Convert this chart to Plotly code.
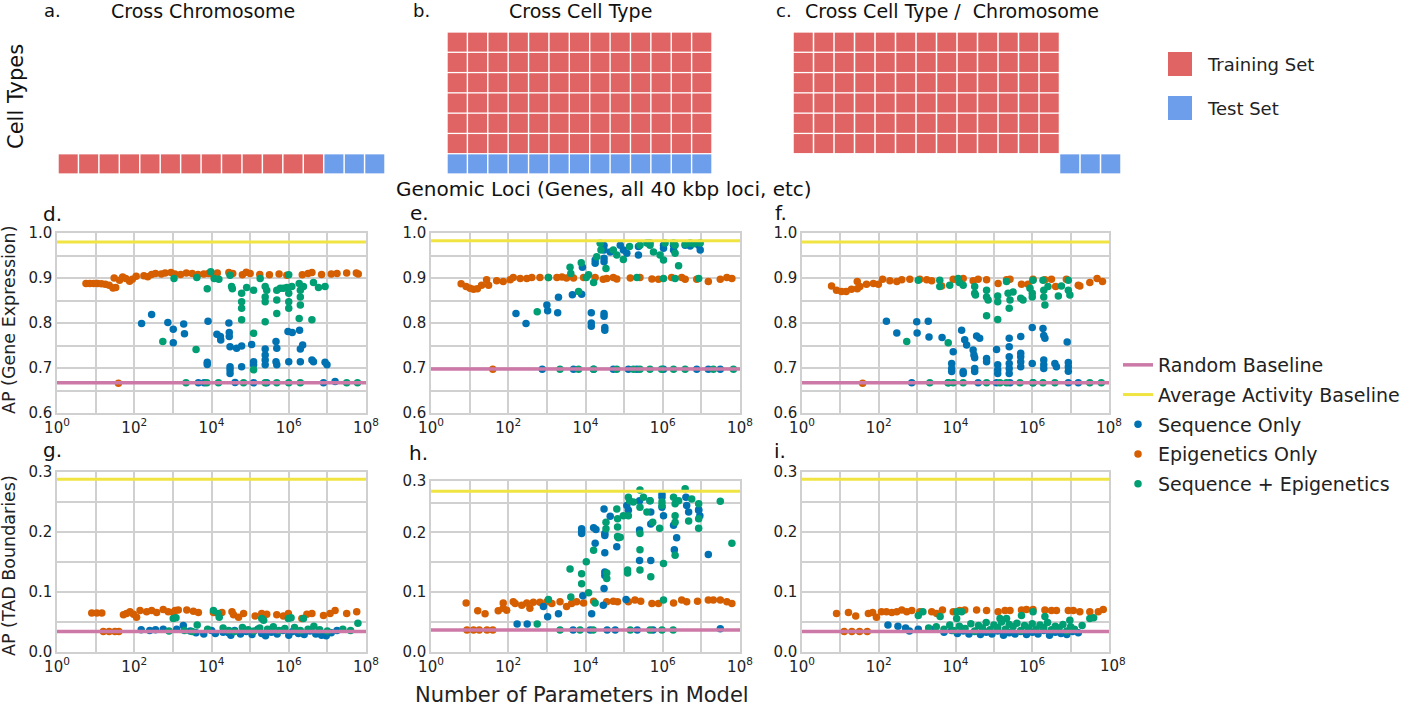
import plotly.graph_objects as go

# ---------------- data (x = log10(number of parameters), y = AP) ----------------
D_EPI = [(0.75,0.888),(0.85,0.888),(0.95,0.888),(1.05,0.888),(1.15,0.887),(1.25,0.886),(1.35,0.884),(1.45,0.878),(1.52,0.879),(1.48,0.900),(1.62,0.895),(1.7,0.902),(1.78,0.899),(1.88,0.893),(1.95,0.897),(2.05,0.904),(2.25,0.905),(2.35,0.903),(2.45,0.908),(2.55,0.910),(2.7,0.909),(2.8,0.911),(2.95,0.912),(3.05,0.909),(3.2,0.908),(3.35,0.911),(3.5,0.910),(3.65,0.908),(3.8,0.909),(3.92,0.91),(4.05,0.907),(4.15,0.911),(4.45,0.912),(4.55,0.91),(4.8,0.907),(4.9,0.913),(5.0,0.910),(5.25,0.908),(5.5,0.907),(5.75,0.909),(5.95,0.906),(6.35,0.907),(6.5,0.910),(6.6,0.912),(6.85,0.908),(7.1,0.909),(7.25,0.91),(7.5,0.911),(7.75,0.911),(7.8,0.909),(1.59,0.666)]
D_SEQ = [(2.19,0.799),(2.45,0.819),(2.87,0.801),(3.01,0.786),(3.01,0.756),(3.28,0.798),(3.30,0.776),(3.91,0.804),(3.89,0.713),(3.89,0.708),(4.14,0.775),(4.23,0.77),(4.24,0.762),(4.45,0.80),(4.46,0.779),(4.46,0.77),(4.48,0.747),(4.48,0.703),(4.48,0.696),(4.48,0.688),(4.65,0.744),(4.78,0.749),(4.78,0.703),(5.04,0.752),(5.09,0.714),(5.09,0.707),(5.39,0.742),(5.39,0.729),(5.39,0.718),(5.39,0.707),(5.67,0.759),(5.69,0.744),(5.67,0.714),(5.69,0.707),(5.98,0.781),(6.09,0.779),(6.0,0.714),(6.28,0.784),(6.3,0.742),(6.36,0.751),(6.3,0.714),(6.6,0.718),(6.64,0.714),(6.94,0.713),(6.99,0.707),(3.66,0.667),(3.81,0.667),(4.61,0.668),(5.09,0.667),(5.43,0.667),(6.9,0.667),(7.2,0.670)]
D_BOTH = [(3.03,0.899),(2.74,0.759),(3.6,0.741),(3.62,0.901),(3.89,0.876),(3.98,0.914),(4.07,0.899),(4.19,0.897),(4.48,0.906),(4.52,0.881),(4.54,0.876),(4.78,0.866),(4.78,0.847),(4.78,0.833),(4.78,0.807),(4.91,0.879),(5.09,0.873),(5.09,0.777),(5.09,0.696),(5.26,0.899),(5.39,0.881),(5.43,0.873),(5.39,0.858),(5.39,0.847),(5.39,0.803),(5.69,0.873),(5.69,0.851),(5.69,0.821),(5.78,0.877),(5.86,0.877),(5.95,0.879),(6.0,0.907),(6.0,0.866),(6.0,0.847),(6.0,0.833),(6.08,0.881),(6.27,0.888),(6.3,0.873),(6.3,0.858),(6.3,0.84),(6.27,0.81),(6.38,0.881),(6.6,0.807),(6.64,0.89),(6.77,0.879),(6.94,0.881),(3.34,0.667),(3.88,0.667),(4.18,0.667),(4.83,0.667),(5.39,0.667),(5.69,0.667),(6.0,0.667),(6.3,0.667),(7.5,0.667),(7.78,0.667)]

E_EPI = [(0.78,0.887),(0.91,0.881),(1.01,0.877),(1.1,0.875),(1.2,0.876),(1.31,0.884),(1.44,0.896),(1.49,0.884),(1.7,0.894),(1.87,0.892),(2.05,0.896),(2.13,0.901),(2.31,0.899),(2.48,0.899),(2.61,0.901),(2.82,0.901),(3.04,0.901),(3.26,0.901),(3.39,0.902),(3.51,0.9),(3.69,0.9),(3.95,0.901),(4.25,0.901),(4.46,0.897),(4.55,0.899),(4.72,0.901),(4.81,0.898),(5.16,0.9),(5.41,0.901),(5.72,0.898),(5.89,0.897),(6.23,0.901),(6.49,0.901),(6.58,0.897),(6.88,0.897),(7.18,0.892),(7.49,0.897),(7.66,0.901),(7.79,0.899),(1.6,0.697)]
E_SEQ = [(2.2,0.821),(2.46,0.799),(3.0,0.84),(3.02,0.827),(3.3,0.857),(3.28,0.823),(3.66,0.863),(3.9,0.864),(3.92,0.924),(4.25,0.94),(4.25,0.933),(4.15,0.823),(4.15,0.793),(4.15,0.80),(4.48,0.821),(4.48,0.815),(4.5,0.79),(4.5,0.784),(4.48,0.972),(4.48,0.962),(4.48,0.944),(4.48,0.936),(4.64,0.958),(4.9,0.973),(4.98,0.962),(5.07,0.955),(5.37,0.97),(5.37,0.951),(5.67,0.978),(6.02,0.973),(6.02,0.966),(6.28,0.973),(6.28,0.962),(6.58,0.973),(6.71,0.971),(6.93,0.973),(6.97,0.962),(2.88,0.697),(3.69,0.697),(4.21,0.697),(4.72,0.697),(5.11,0.697),(5.33,0.697),(6.02,0.697),(6.88,0.697),(7.18,0.697),(7.49,0.697)]
E_BOTH = [(2.75,0.825),(3.04,0.901),(3.6,0.924),(3.62,0.91),(3.82,0.87),(3.89,0.934),(4.02,0.901),(4.08,0.907),(4.21,0.89),(4.29,0.947),(4.53,0.921),(4.38,0.977),(4.4,0.962),(4.72,0.962),(4.81,0.951),(4.98,0.941),(5.14,0.97),(5.33,0.901),(5.41,0.973),(5.59,0.978),(5.67,0.973),(5.76,0.958),(5.93,0.951),(6.02,0.94),(6.02,0.899),(6.06,0.978),(6.28,0.978),(6.32,0.973),(6.32,0.955),(6.41,0.927),(6.32,0.899),(6.71,0.978),(6.8,0.976),(6.93,0.899),(6.97,0.978),(6.58,0.975),(3.34,0.697),(3.82,0.697),(4.21,0.697),(4.81,0.697),(5.24,0.697),(5.41,0.697),(5.67,0.697),(5.97,0.697),(6.28,0.697),(6.58,0.697),(7.31,0.697),(7.83,0.697)]

F_EPI = [(0.77,0.882),(0.9,0.873),(1.03,0.87),(1.15,0.87),(1.29,0.875),(1.44,0.876),(1.51,0.881),(1.44,0.892),(1.68,0.886),(1.86,0.888),(1.99,0.886),(2.1,0.897),(2.29,0.894),(2.47,0.892),(2.6,0.896),(2.81,0.897),(3.07,0.897),(3.25,0.896),(3.38,0.894),(3.64,0.882),(3.94,0.897),(4.03,0.896),(4.2,0.899),(4.46,0.894),(4.59,0.897),(4.81,0.896),(5.11,0.888),(5.33,0.896),(5.42,0.897),(5.72,0.886),(5.89,0.886),(6.02,0.897),(6.33,0.896),(6.5,0.897),(6.61,0.881),(6.89,0.897),(7.2,0.884),(7.24,0.882),(7.5,0.89),(7.69,0.899),(7.83,0.892),(1.58,0.666)]
F_SEQ = [(2.2,0.804),(2.47,0.778),(2.99,0.803),(3.0,0.778),(3.29,0.804),(3.31,0.769),(3.65,0.768),(3.94,0.736),(3.9,0.71),(3.9,0.699),(3.9,0.692),(4.16,0.784),(4.24,0.763),(4.29,0.751),(4.2,0.692),(4.2,0.688),(4.46,0.74),(4.48,0.729),(4.5,0.723),(4.5,0.699),(4.5,0.692),(4.55,0.771),(4.63,0.766),(4.81,0.721),(4.81,0.714),(5.07,0.741),(5.1,0.707),(5.1,0.696),(5.1,0.688),(5.4,0.766),(5.4,0.747),(5.4,0.725),(5.4,0.71),(5.4,0.699),(5.4,0.688),(5.7,0.733),(5.7,0.725),(5.7,0.714),(5.7,0.703),(5.7,0.77),(6.0,0.79),(6.0,0.71),(6.28,0.788),(6.3,0.772),(6.33,0.766),(6.3,0.718),(6.3,0.707),(6.3,0.699),(6.59,0.71),(6.63,0.703),(6.91,0.758),(6.94,0.712),(6.94,0.703),(6.94,0.693),(2.86,0.667),(3.81,0.667),(4.59,0.667),(5.07,0.667),(5.42,0.667),(6.02,0.667),(6.94,0.667),(7.2,0.667)]
F_BOTH = [(2.73,0.759),(3.03,0.895),(3.59,0.895),(3.59,0.881),(3.81,0.756),(3.85,0.884),(4.07,0.899),(4.1,0.89),(4.2,0.884),(4.5,0.881),(4.5,0.866),(4.52,0.862),(4.81,0.873),(4.81,0.858),(4.85,0.851),(4.81,0.816),(5.1,0.86),(5.1,0.847),(5.1,0.808),(5.33,0.892),(5.37,0.866),(5.42,0.851),(5.4,0.833),(5.5,0.869),(5.7,0.855),(5.76,0.851),(5.94,0.877),(6.0,0.866),(6.0,0.858),(6.02,0.895),(6.28,0.895),(6.3,0.873),(6.3,0.858),(6.33,0.84),(6.41,0.881),(6.68,0.86),(6.76,0.882),(6.94,0.895),(6.94,0.873),(6.98,0.862),(3.33,0.667),(3.81,0.667),(3.94,0.667),(4.2,0.667),(4.81,0.667),(5.16,0.667),(5.33,0.667),(5.68,0.667),(6.02,0.667),(6.28,0.667),(6.59,0.667),(7.5,0.667),(7.8,0.667)]

G_EPI = [(0.9,0.065),(1.03,0.065),(1.16,0.065),(1.72,0.062),(1.8,0.064),(1.89,0.067),(1.98,0.063),(2.06,0.058),(2.15,0.069),(2.32,0.067),(2.45,0.069),(2.58,0.066),(2.75,0.071),(2.88,0.067),(3.01,0.066),(3.06,0.069),(3.14,0.07),(3.36,0.07),(3.53,0.068),(3.66,0.066),(4.05,0.066),(4.27,0.066),(4.53,0.067),(4.57,0.062),(4.7,0.058),(4.83,0.064),(5.13,0.06),(5.3,0.064),(5.43,0.063),(5.69,0.062),(5.86,0.06),(5.99,0.064),(6.34,0.056),(6.47,0.063),(6.6,0.064),(6.9,0.061),(7.07,0.064),(7.2,0.069),(7.5,0.064),(7.76,0.067),(1.2,0.034),(1.35,0.034),(1.5,0.034),(1.6,0.034)]
G_SEQ = [(2.18,0.037),(2.4,0.036),(2.55,0.037),(2.75,0.038),(3.27,0.044),(3.1,0.038),(3.45,0.035),(3.6,0.032),(3.8,0.03),(4.0,0.036),(4.1,0.031),(4.3,0.033),(4.44,0.032),(4.5,0.028),(4.6,0.036),(4.75,0.03),(4.9,0.034),(5.05,0.029),(5.2,0.038),(5.3,0.031),(5.4,0.027),(5.55,0.033),(5.7,0.03),(5.85,0.036),(6.0,0.028),(6.1,0.034),(6.25,0.031),(6.4,0.029),(6.55,0.035),(6.7,0.03),(6.85,0.028),(6.97,0.027),(7.1,0.032),(7.25,0.036)]
G_BOTH = [(3.01,0.056),(3.08,0.057),(3.63,0.045),(4.05,0.069),(4.17,0.064),(4.2,0.058),(5.3,0.056),(5.35,0.053),(5.99,0.056),(6.06,0.057),(6.38,0.056),(7.79,0.048),(2.9,0.035),(3.3,0.036),(3.5,0.034),(3.9,0.038),(4.3,0.04),(4.45,0.036),(4.6,0.034),(4.8,0.041),(4.95,0.037),(5.1,0.035),(5.25,0.04),(5.45,0.038),(5.6,0.042),(5.75,0.036),(5.9,0.039),(6.15,0.041),(6.3,0.036),(6.5,0.038),(6.65,0.043),(6.8,0.037),(7.0,0.035),(7.4,0.038),(7.6,0.036)]

H_EPI = [(0.91,0.082),(1.21,0.069),(1.4,0.064),(1.74,0.069),(1.87,0.082),(1.87,0.073),(1.96,0.07),(2.13,0.084),(2.18,0.081),(2.35,0.078),(2.48,0.082),(2.56,0.073),(2.65,0.083),(2.82,0.083),(3.0,0.084),(3.13,0.081),(3.34,0.084),(3.51,0.076),(3.64,0.081),(3.77,0.084),(3.95,0.082),(4.21,0.085),(4.55,0.084),(4.72,0.085),(4.83,0.084),(5.11,0.084),(5.28,0.087),(5.43,0.085),(5.72,0.081),(5.89,0.081),(6.28,0.082),(6.49,0.087),(6.62,0.084),(6.9,0.085),(7.18,0.087),(7.31,0.087),(7.49,0.087),(7.66,0.084),(7.79,0.081),(0.93,0.037),(1.1,0.037),(1.25,0.037),(1.45,0.037),(1.6,0.037)]
H_SEQ = [(3.02,0.059),(2.91,0.076),(3.3,0.064),(3.9,0.206),(3.9,0.202),(3.9,0.198),(3.93,0.094),(4.16,0.064),(4.21,0.208),(4.27,0.205),(4.25,0.182),(4.48,0.239),(4.5,0.198),(4.5,0.195),(4.5,0.166),(4.5,0.134),(4.5,0.128),(4.48,0.106),(4.46,0.078),(4.64,0.227),(4.81,0.176),(5.07,0.245),(5.11,0.237),(5.05,0.088),(5.4,0.253),(5.4,0.204),(5.4,0.153),(5.67,0.253),(5.69,0.234),(5.69,0.214),(5.69,0.153),(5.98,0.264),(5.98,0.259),(5.98,0.242),(6.02,0.228),(6.28,0.212),(6.3,0.171),(6.36,0.191),(6.6,0.259),(6.62,0.245),(6.67,0.234),(6.93,0.238),(6.96,0.228),(6.93,0.237),(7.18,0.163),(2.23,0.047),(2.49,0.047),(3.68,0.037),(4.12,0.037),(4.56,0.037),(4.77,0.037),(5.34,0.037),(5.75,0.037),(7.49,0.039)]
H_BOTH = [(3.04,0.088),(3.6,0.139),(3.62,0.092),(3.9,0.131),(3.9,0.114),(4.02,0.151),(4.08,0.099),(4.21,0.17),(4.25,0.082),(4.53,0.217),(4.53,0.206),(4.55,0.132),(4.55,0.123),(4.81,0.239),(4.83,0.223),(4.83,0.209),(4.83,0.193),(4.85,0.191),(4.9,0.192),(4.98,0.228),(5.11,0.259),(5.14,0.253),(5.11,0.228),(5.09,0.137),(5.09,0.132),(5.24,0.251),(5.41,0.271),(5.41,0.242),(5.41,0.198),(5.41,0.171),(5.41,0.137),(5.5,0.259),(5.59,0.234),(5.67,0.253),(5.69,0.126),(5.74,0.217),(5.92,0.207),(5.98,0.251),(5.98,0.245),(6.02,0.148),(6.02,0.087),(6.28,0.259),(6.32,0.248),(6.32,0.228),(6.32,0.217),(6.32,0.162),(6.41,0.253),(6.58,0.288),(6.58,0.273),(6.67,0.219),(6.75,0.256),(6.93,0.248),(6.93,0.223),(6.93,0.207),(7.49,0.252),(7.79,0.182),(2.75,0.047),(3.34,0.037),(3.86,0.037),(4.2,0.037),(5.16,0.037),(5.67,0.037),(5.98,0.037),(6.27,0.037)]

I_EPI = [(0.9,0.064),(1.21,0.066),(1.4,0.06),(1.73,0.064),(1.84,0.066),(1.94,0.058),(2.07,0.067),(2.2,0.067),(2.34,0.066),(2.47,0.067),(2.6,0.07),(2.73,0.067),(2.86,0.069),(3.07,0.067),(3.38,0.067),(3.51,0.064),(3.66,0.07),(3.94,0.067),(4.11,0.069),(4.24,0.07),(4.55,0.07),(4.81,0.069),(5.11,0.067),(5.29,0.069),(5.42,0.069),(5.72,0.07),(5.85,0.071),(6.02,0.071),(6.33,0.07),(6.5,0.069),(6.63,0.069),(6.94,0.069),(7.07,0.069),(7.24,0.067),(7.5,0.067),(7.72,0.067),(7.85,0.071),(1.1,0.034),(1.3,0.034),(1.5,0.034),(1.7,0.034)]
I_SEQ = [(2.24,0.045),(2.5,0.043),(2.7,0.04),(2.8,0.035),(3.03,0.038),(3.45,0.038),(3.7,0.033),(3.9,0.036),(4.05,0.031),(4.2,0.035),(4.35,0.03),(4.5,0.034),(4.65,0.029),(4.8,0.033),(4.95,0.03),(5.1,0.035),(5.25,0.028),(5.4,0.032),(5.55,0.03),(5.7,0.034),(5.85,0.029),(6.0,0.033),(6.15,0.03),(6.3,0.036),(6.45,0.028),(6.6,0.033),(6.75,0.031),(6.9,0.029),(7.05,0.034),(7.2,0.032)]
I_BOTH = [(3.03,0.061),(3.15,0.067),(3.6,0.059),(4.03,0.067),(4.16,0.067),(4.03,0.056),(5.16,0.056),(5.33,0.056),(5.72,0.061),(6.02,0.067),(6.33,0.059),(6.98,0.053),(7.5,0.056),(7.6,0.057),(8.1,0.031),(3.3,0.04),(3.5,0.042),(3.7,0.038),(3.85,0.045),(3.95,0.036),(4.1,0.043),(4.25,0.039),(4.4,0.047),(4.5,0.035),(4.6,0.044),(4.7,0.04),(4.8,0.049),(4.9,0.037),(5.0,0.045),(5.1,0.041),(5.2,0.05),(5.3,0.038),(5.4,0.046),(5.5,0.042),(5.6,0.048),(5.7,0.036),(5.8,0.044),(5.9,0.04),(6.0,0.047),(6.1,0.038),(6.2,0.045),(6.3,0.041),(6.4,0.049),(6.5,0.037),(6.6,0.043),(6.7,0.04),(6.8,0.046),(6.9,0.035),(7.0,0.042),(7.1,0.038),(7.3,0.044)]

RANDOM_BASELINE = {"d": 0.667, "e": 0.698, "f": 0.667, "g": 0.034, "h": 0.037, "i": 0.034}
AVERAGE_BASELINE = {"d": 0.980, "e": 0.983, "f": 0.980, "g": 0.288, "h": 0.269, "i": 0.288}

PANEL_DATA = {
    "d": (D_SEQ, D_EPI, D_BOTH), "e": (E_SEQ, E_EPI, E_BOTH), "f": (F_SEQ, F_EPI, F_BOTH),
    "g": (G_SEQ, G_EPI, G_BOTH), "h": (H_SEQ, H_EPI, H_BOTH), "i": (I_SEQ, I_EPI, I_BOTH),
}

X_TICK_EXPONENTS = list(range(0, 9))
TOP_Y_TICKS = [0.6, 0.7, 0.8, 0.9, 1.0]
BOTTOM_Y_TICKS = [0.0, 0.1, 0.2, 0.3]
SERIES_NAMES = ["Sequence Only", "Epigenetics Only", "Sequence + Epigenetics"]
SCHEMA_TITLES = {"a": "Cross Chromosome", "b": "Cross Cell Type", "c": "Cross Cell Type /  Chromosome"}

# schematic grid counts
A_TRAIN_COLS, A_TEST_COLS = 13, 3
B_COLS, B_TRAIN_ROWS = 13, 6
C_COLS, C_TRAIN_ROWS, C_TEST_COLS = 13, 6, 3

# ---------------- styling ----------------
BLUE, ORANGE, GREEN = "#0072B2", "#D55E00", "#009E73"
PINK, YELLOW = "#CC79A7", "#F0E442"
TRAIN_RED, TEST_BLUE = "#E06464", "#6D9EEB"
GRID = "#d0d0d0"
FONT = "DejaVu Sans"
W, H = 1418, 707


def dx(a, b):
    return [a / W, b / W]


def dy(top, bottom):
    return [1 - bottom / H, 1 - top / H]


PANELS = {
    "d": dict(ax=1, xd=dx(57, 366), yd=dy(233, 413)),
    "e": dict(ax=2, xd=dx(431, 740), yd=dy(233, 413)),
    "f": dict(ax=3, xd=dx(802, 1109), yd=dy(233, 413)),
    "g": dict(ax=4, xd=dx(57, 366), yd=dy(472, 652)),
    "h": dict(ax=5, xd=dx(431, 740), yd=dy(481, 652)),
    "i": dict(ax=6, xd=dx(802, 1109), yd=dy(472, 652)),
}

fig = go.Figure()
layout = dict(
    width=W, height=H, margin=dict(l=0, r=0, t=0, b=0, pad=0, autoexpand=False),
    paper_bgcolor="white", plot_bgcolor="white",
    font=dict(family=FONT, color="#222"),
    showlegend=True,
)


def axname(n, c):
    return c if n == 1 else f"{c}{n}"


series_colors = [BLUE, ORANGE, GREEN]
draw_order = [1, 0, 2]
for key, p in PANELS.items():
    n = p["ax"]
    xr, yr = axname(n, "x"), axname(n, "y")
    seq, epi, both = PANEL_DATA[key]
    series = [seq, epi, both]
    for si in draw_order:
        pts = series[si]
        fig.add_trace(go.Scatter(
            x=[10 ** v[0] for v in pts], y=[v[1] for v in pts], mode="markers",
            marker=dict(color=series_colors[si], size=7.5, line=dict(width=0)),
            name=SERIES_NAMES[si], legendgroup=SERIES_NAMES[si], showlegend=(key == "d"),
            legendrank=3 + si, xaxis=xr, yaxis=yr, cliponaxis=False,
        ))
    for bname, bval, col, rank, wdt in [("Random Baseline", RANDOM_BASELINE[key], PINK, 1, 3.5),
                                        ("Average Activity Baseline", AVERAGE_BASELINE[key], YELLOW, 2, 3)]:
        fig.add_trace(go.Scatter(
            x=[10 ** X_TICK_EXPONENTS[0], 10 ** X_TICK_EXPONENTS[-1]], y=[bval, bval], mode="lines",
            line=dict(color=col, width=wdt), name=bname, legendgroup=bname,
            showlegend=(key == "d"), legendrank=rank, xaxis=xr, yaxis=yr,
        ))

    if key in "def":
        yvals = TOP_Y_TICKS
        yrange = [TOP_Y_TICKS[0], TOP_Y_TICKS[-1]]
    elif key == "h":
        # panel h is drawn slightly shorter; its top tick (0.3) sits at the frame
        yrange = [BOTTOM_Y_TICKS[0], 0.286]
        yvals = BOTTOM_Y_TICKS[:-1] + [0.286]
    else:
        yvals = BOTTOM_Y_TICKS
        yrange = [BOTTOM_Y_TICKS[0], BOTTOM_Y_TICKS[-1]]
    ytext = [f"{v:.1f}" for v in (TOP_Y_TICKS if key in "def" else BOTTOM_Y_TICKS)]
    yminor = [round(v + 0.05, 3) for v in (TOP_Y_TICKS if key in "def" else BOTTOM_Y_TICKS)[:-1]]

    major_exp = [e for e in X_TICK_EXPONENTS if e % 2 == 0]
    minor_exp = [e for e in X_TICK_EXPONENTS if e % 2 == 1]
    if key == "i":
        major_exp = major_exp[:-1]
    layout[axname(n, "xaxis")] = dict(
        domain=p["xd"], anchor=yr, type="log", range=[X_TICK_EXPONENTS[0], X_TICK_EXPONENTS[-1]],
        tickvals=[10 ** e for e in major_exp], ticktext=[f"10<sup>{e}</sup>" for e in major_exp],
        minor=dict(tickvals=[10 ** e for e in minor_exp], showgrid=True, gridcolor=GRID,
                   gridwidth=1.5, ticks=""),
        showgrid=True, gridcolor=GRID, gridwidth=1.5, showline=True, linecolor=GRID,
        linewidth=1.5, mirror=True, zeroline=False, ticks="", tickfont=dict(size=15, color="#222"),
        fixedrange=True, automargin=False,
    )
    layout[axname(n, "yaxis")] = dict(
        domain=p["yd"], anchor=xr, range=yrange, tickvals=yvals, ticktext=ytext,
        minor=dict(tickvals=yminor, showgrid=True, gridcolor=GRID, gridwidth=1.5, ticks=""),
        showgrid=True, gridcolor=GRID, gridwidth=1.5, showline=True, linecolor=GRID,
        linewidth=1.5, mirror=True, zeroline=False, ticks="", tickfont=dict(size=15, color="#222"),
        fixedrange=True, automargin=False,
    )

# ---------------- schematic panels a-c ----------------
schema_rows_domain = dy(32, 174)
SCHEMA_AXES = {
    "a": dict(ax=7, xd=dx(58, 385), ncols=A_TRAIN_COLS + A_TEST_COLS),
    "b": dict(ax=8, xd=dx(447, 712), ncols=B_COLS),
    "c": dict(ax=9, xd=dx(793, 1121), ncols=C_COLS + C_TEST_COLS),
}
cells = {
    "a": ([(c, 0) for c in range(A_TRAIN_COLS)],
          [(A_TRAIN_COLS + c, 0) for c in range(A_TEST_COLS)]),
    "b": ([(c, r + 1) for r in range(B_TRAIN_ROWS) for c in range(B_COLS)],
          [(c, 0) for c in range(B_COLS)]),
    "c": ([(c, r + 1) for r in range(C_TRAIN_ROWS) for c in range(C_COLS)],
          [(C_COLS + c, 0) for c in range(C_TEST_COLS)]),
}
for key, s in SCHEMA_AXES.items():
    n = s["ax"]
    xr, yr = axname(n, "x"), axname(n, "y")
    train, test = cells[key]
    for pts, col in [(train, TRAIN_RED), (test, TEST_BLUE)]:
        fig.add_trace(go.Scatter(
            x=[p_[0] for p_ in pts], y=[p_[1] for p_ in pts], mode="markers",
            marker=dict(symbol="square", size=19, color=col, line=dict(width=0)),
            showlegend=False, hoverinfo="skip", xaxis=xr, yaxis=yr, cliponaxis=False,
        ))
    layout[axname(n, "xaxis")] = dict(domain=s["xd"], anchor=yr, range=[-0.5, s["ncols"] - 0.5],
                                      visible=False, fixedrange=True)
    layout[axname(n, "yaxis")] = dict(domain=schema_rows_domain, anchor=xr, range=[-0.5, 6.5],
                                      visible=False, fixedrange=True)

# key (Training / Test set)
KEY_LABELS = ["Test Set", "Training Set"]
fig.add_trace(go.Scatter(
    x=[0, 0], y=[0, 1], mode="markers",
    marker=dict(symbol="square", size=24, color=[TEST_BLUE, TRAIN_RED], line=dict(width=0)),
    showlegend=False, hoverinfo="skip", xaxis="x10", yaxis="y10", cliponaxis=False,
))
layout["xaxis10"] = dict(domain=dx(1168, 1192), anchor="y10", range=[-0.5, 0.5], visible=False, fixedrange=True)
layout["yaxis10"] = dict(domain=dy(64, 108), anchor="x10", range=[0, 1], visible=False, fixedrange=True)

annotations = []
for i_, lab in enumerate(KEY_LABELS):
    annotations.append(dict(xref="x10 domain", yref="y10", x=1 + 13 / 24, y=i_, text=lab,
                            xanchor="left", yanchor="middle", showarrow=False,
                            font=dict(size=18, family=FONT, color="#222")))

# titles of schematic panels
for lab, cx, tx, title in [("a.", 52, 203, SCHEMA_TITLES["a"]), ("b.", 421, 580, SCHEMA_TITLES["b"]),
                           ("c.", 784, 952, SCHEMA_TITLES["c"])]:
    annotations.append(dict(xref="paper", yref="paper", x=cx / W, y=1 - 11 / H, text=lab,
                            showarrow=False, xanchor="center", yanchor="middle",
                            font=dict(size=18, family=FONT, color="#111")))
    annotations.append(dict(xref="paper", yref="paper", x=tx / W, y=1 - 11 / H, text=title,
                            showarrow=False, xanchor="center", yanchor="middle",
                            font=dict(size=19, family=FONT, color="#111")))

annotations.append(dict(xref="paper", yref="paper", x=16 / W, y=1 - 97 / H, text="Cell Types",
                        textangle=-90, showarrow=False, xanchor="center", yanchor="middle",
                        font=dict(size=21, family=FONT, color="#111")))
annotations.append(dict(xref="paper", yref="paper", x=604 / W, y=1 - 189 / H,
                        text="Genomic Loci (Genes, all 40 kbp loci, etc)", showarrow=False,
                        xanchor="center", yanchor="middle", font=dict(size=20, family=FONT, color="#111")))

# panel letters
for lab, px, py in [("d.", 53, 214), ("e.", 419, 213), ("f.", 781, 213),
                    ("g.", 53, 450), ("h.", 418, 453), ("i.", 780, 451)]:
    annotations.append(dict(xref="paper", yref="paper", x=px / W, y=1 - py / H, text=lab,
                            showarrow=False, xanchor="center", yanchor="middle",
                            font=dict(size=20, family=FONT, color="#111")))

# axis titles
annotations.append(dict(xref="paper", yref="paper", x=9 / W, y=1 - 320 / H, text="AP (Gene Expression)",
                        textangle=-90, showarrow=False, xanchor="center", yanchor="middle",
                        font=dict(size=17.5, family=FONT, color="#222")))
annotations.append(dict(xref="paper", yref="paper", x=9 / W, y=1 - 566 / H, text="AP (TAD Boundaries)",
                        textangle=-90, showarrow=False, xanchor="center", yanchor="middle",
                        font=dict(size=17.5, family=FONT, color="#222")))
annotations.append(dict(xref="paper", yref="paper", x=582 / W, y=1 - 695 / H,
                        text="Number of Parameters in Model", showarrow=False,
                        xanchor="center", yanchor="middle", font=dict(size=21, family=FONT, color="#222")))
# displaced 10^8 label of panel i
annotations.append(dict(xref="x6", yref="y6", x=X_TICK_EXPONENTS[-1], y=0,
                        text=f"10<sup>{X_TICK_EXPONENTS[-1]}</sup>",
                        showarrow=False, xanchor="center", yanchor="top", xshift=4, yshift=-1,
                        font=dict(size=15, family=FONT, color="#222")))

layout["annotations"] = annotations
layout["legend"] = dict(x=1118 / W, y=1 - 346 / H, xanchor="left", yanchor="top",
                        font=dict(size=19, family=FONT, color="#222"),
                        traceorder="grouped", tracegroupgap=2, itemwidth=30,
                        bgcolor="rgba(0,0,0,0)")
fig.update_layout(**layout)
fig.write_html("out.html", config={"displayModeBar": False},
               post_script="document.body.style.margin='0px';")
